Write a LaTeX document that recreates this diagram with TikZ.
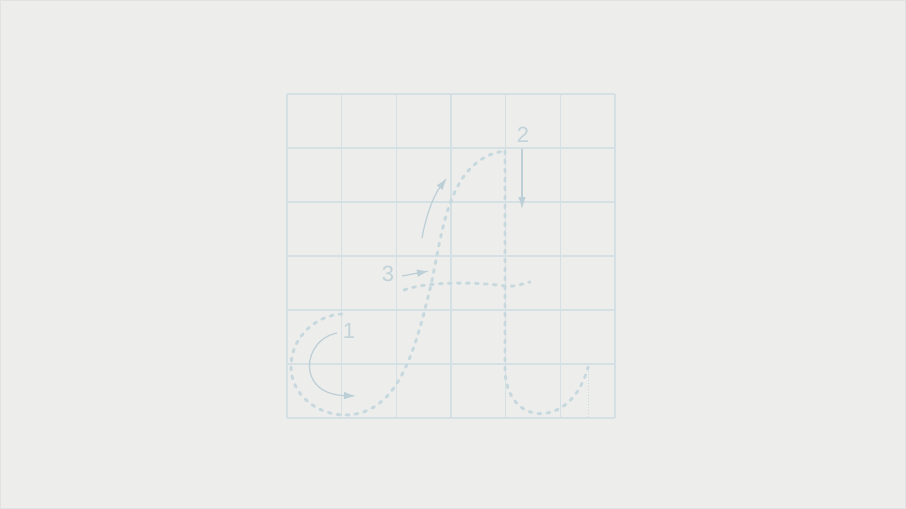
\documentclass[tikz,border=0pt]{standalone}
\usepackage{fontspec}
\setmainfont{Liberation Sans}
\usetikzlibrary{arrows.meta}
\definecolor{bgc}{RGB}{237,237,235}
\definecolor{framec}{RGB}{226,226,224}
\definecolor{gridc}{RGB}{213,224,229}
\definecolor{dashc}{RGB}{199,217,223}
\definecolor{arrowc}{RGB}{188,207,214}
\definecolor{labelc}{RGB}{193,211,217}
\tikzset{
  gridline/.style={draw=gridc, line width=1.1pt},
  strokepath/.style={draw=dashc, line width=2.9pt, line cap=round, dash pattern=on 3pt off 6pt},
  guidearrow/.style={draw=arrowc, line width=1.2pt, -{Latex[length=12pt,width=7.5pt]}},
  numlabel/.style={text=labelc, font=\fontsize{22}{24}\selectfont, inner sep=0pt},
  thindots/.style={draw=dashc, line width=1pt, dash pattern=on 1pt off 2pt}
}
\begin{document}
\begin{tikzpicture}[x=1pt,y=-1pt]
\fill[bgc] (0,0) rectangle (906,509);
\draw[framec, line width=1pt] (0.5,0.5) rectangle (905.5,508.5);
\useasboundingbox (0,0) rectangle (906,509);
% grid
\foreach \i in {0,...,6} {
  \draw[gridline] ({287+\i*54.667},94) -- ({287+\i*54.667},418);
  \draw[gridline] (287,{94+\i*54}) -- (615,{94+\i*54});
}
% stroke 1: loop and main stroke
\draw[strokepath] (342,314)
  .. controls (318,315) and (292,335) .. (291,365)
  .. controls (290,395) and (318,415) .. (345,415)
  .. controls (370,415) and (388,400) .. (400,378)
  .. controls (414,355) and (425,311) .. (432,280)
  .. controls (442,235) and (448,158) .. (505,151);
% stroke 2: down stroke and hook
\draw[strokepath] (505,151) -- (505,368)
  .. controls (505,428) and (572,430) .. (588,367);
\draw[thindots] (588,368) -- (588,418);
% stroke 3: cross bar
\draw[strokepath] (404,290)
  .. controls (428,281) and (478,282) .. (505,286)
  .. controls (515,287) and (522,284) .. (530,282);
% guide arrows
\coordinate (a1s) at (337,333);
\coordinate (a1e) at (356,396);
\draw[guidearrow] (a1s) .. controls (302,340) and (296,394) .. (a1e);
\coordinate (a2s) at (522,149);
\coordinate (a2e) at (522,209);
\draw[guidearrow] (a2s) -- (a2e);
\coordinate (aus) at (422,238);
\coordinate (aue) at (447,178);
\draw[guidearrow] (aus) .. controls (426,215) and (434,195) .. (aue);
\coordinate (a3s) at (402,276);
\coordinate (a3e) at (429,271);
\draw[guidearrow] (a3s) -- (a3e);
% labels
\node[numlabel] (l1) at (349,331) {1};
\node[numlabel] (l2) at (523,135) {2};
\node[numlabel] (l3) at (388,274) {3};
\end{tikzpicture}
\end{document}
